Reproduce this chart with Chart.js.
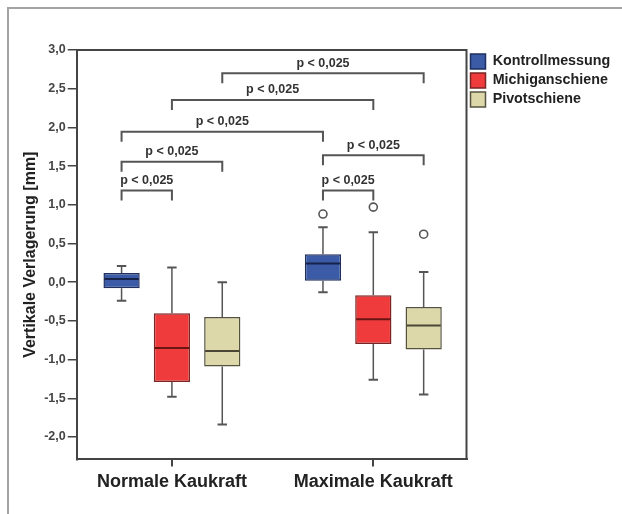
<!DOCTYPE html>
<html>
<head>
<meta charset="utf-8">
<script src="https://cdn.jsdelivr.net/npm/chart.js@4/dist/chart.umd.min.js"></script>
<style>
  html, body { margin: 0; padding: 0; background: #fff; }
  #wrap { position: relative; width: 622px; height: 514px; }
  #page { position: absolute; left: 7px; top: 7px; right: 0; bottom: 0;
          border-left: 2px solid #a3a3a3; border-top: 2px solid #a3a3a3; }
  canvas { position: absolute; left: 0; top: 0; }
</style>
</head>
<body>
<div id="wrap">
  <div id="page"></div>
  <canvas id="c" width="622" height="514"></canvas>
</div>
<script>
// Groups on the x axis
const groups = ['Normale Kaukraft', 'Maximale Kaukraft'];

// Box statistics per group: [min whisker, Q1, median, Q3, max whisker] in mm
const kontrollmessung = [[-0.24, -0.08, 0.04, 0.12, 0.21], [-0.13, 0.02, 0.24, 0.36, 0.71]];
const michiganschiene = [[-1.48, -1.29, -0.85, -0.40, 0.19], [-1.26, -0.80, -0.48, -0.17, 0.645]];
const pivotschiene    = [[-1.84, -1.09, -0.89, -0.45, 0.00], [-1.45, -0.87, -0.56, -0.32, 0.13]];

// Outliers per group
const kontrollOutliers = [[], [0.88]];
const michiganOutliers = [[], [0.97]];
const pivotOutliers    = [[], [0.62]];

// Y axis tick values
const yTicks = [-2.0, -1.5, -1.0, -0.5, 0.0, 0.5, 1.0, 1.5, 2.0, 2.5, 3.0];

// Significance brackets: [series, group] to [series, group], at height level (mm)
const brackets = [
  { from: [2, 0], to: [2, 1], level: 2.70, text: 'p < 0,025' },
  { from: [1, 0], to: [1, 1], level: 2.355, text: 'p < 0,025' },
  { from: [0, 0], to: [0, 1], level: 1.945, text: 'p < 0,025' },
  { from: [0, 0], to: [2, 0], level: 1.555, text: 'p < 0,025' },
  { from: [0, 0], to: [1, 0], level: 1.185, text: 'p < 0,025' },
  { from: [0, 1], to: [2, 1], level: 1.64,  text: 'p < 0,025' },
  { from: [0, 1], to: [1, 1], level: 1.185, text: 'p < 0,025' }
];

const FONT = "'Liberation Sans', Arial, sans-serif";

const series = [
  { label: 'Kontrollmessung', stats: kontrollmessung, outliers: kontrollOutliers,
    fill: '#3b5ba6', edge: '#1f2f5e', median: '#16224a' },
  { label: 'Michiganschiene', stats: michiganschiene, outliers: michiganOutliers,
    fill: '#ef3b3c', edge: '#7a2424', median: '#6a1414' },
  { label: 'Pivotschiene', stats: pivotschiene, outliers: pivotOutliers,
    fill: '#dcd8aa', edge: '#55533e', median: '#4a4834' }
];

const datasets = series.map(s => ({
  label: s.label,
  data: s.stats.map((st, g) => ({ x: g, y: [st[1], st[3]] })),
  backgroundColor: s.fill,
  borderColor: s.edge,
  borderWidth: 1.5,
  borderSkipped: false,
  categoryPercentage: 0.75,
  barPercentage: 0.72
}));

// Whiskers, medians and outliers for each box
const boxPlugin = {
  id: 'boxParts',
  beforeDatasetsDraw(chart) {
    const ctx = chart.ctx, y = chart.scales.y;
    ctx.save();
    series.forEach((s, di) => {
      const meta = chart.getDatasetMeta(di);
      meta.data.forEach((bar, g) => {
        const st = s.stats[g];
        const x = bar.x, cap = bar.width * 0.13;
        ctx.strokeStyle = '#555';
        ctx.lineWidth = 1.5;
        ctx.beginPath();
        ctx.moveTo(x, y.getPixelForValue(st[4]));
        ctx.lineTo(x, y.getPixelForValue(st[3]));
        ctx.moveTo(x, y.getPixelForValue(st[1]));
        ctx.lineTo(x, y.getPixelForValue(st[0]));
        ctx.stroke();
        ctx.lineWidth = 2;
        ctx.beginPath();
        ctx.moveTo(x - cap, y.getPixelForValue(st[4]));
        ctx.lineTo(x + cap, y.getPixelForValue(st[4]));
        ctx.moveTo(x - cap, y.getPixelForValue(st[0]));
        ctx.lineTo(x + cap, y.getPixelForValue(st[0]));
        ctx.stroke();
      });
    });
    ctx.restore();
  },
  afterDatasetsDraw(chart) {
    const ctx = chart.ctx, y = chart.scales.y;
    ctx.save();
    series.forEach((s, di) => {
      const meta = chart.getDatasetMeta(di);
      meta.data.forEach((bar, g) => {
        const st = s.stats[g];
        const half = bar.width / 2;
        ctx.strokeStyle = s.median;
        ctx.lineWidth = 2;
        ctx.beginPath();
        const ym = y.getPixelForValue(st[2]);
        ctx.moveTo(bar.x - half + 1, ym);
        ctx.lineTo(bar.x + half - 1, ym);
        ctx.stroke();
        s.outliers[g].forEach(v => {
          ctx.beginPath();
          ctx.arc(bar.x, y.getPixelForValue(v), 4, 0, Math.PI * 2);
          ctx.fillStyle = '#fff';
          ctx.fill();
          ctx.strokeStyle = '#555';
          ctx.lineWidth = 1.6;
          ctx.stroke();
        });
      });
    });

    // Significance brackets
    ctx.font = 'bold 12.5px ' + FONT;
    ctx.textAlign = 'center';
    ctx.textBaseline = 'middle';
    brackets.forEach(b => {
      const x1 = chart.getDatasetMeta(b.from[0]).data[b.from[1]].x;
      const x2 = chart.getDatasetMeta(b.to[0]).data[b.to[1]].x;
      const yl = y.getPixelForValue(b.level);
      ctx.strokeStyle = '#555';
      ctx.lineWidth = 2;
      ctx.beginPath();
      ctx.moveTo(x1, yl + 10);
      ctx.lineTo(x1, yl);
      ctx.lineTo(x2, yl);
      ctx.lineTo(x2, yl + 10);
      ctx.stroke();
      ctx.fillStyle = '#333';
      ctx.fillText(b.text, (x1 + x2) / 2, yl - 10);
    });

    // Plot frame: top and right edges
    const a = chart.chartArea;
    ctx.strokeStyle = '#444';
    ctx.lineWidth = 2;
    ctx.beginPath();
    ctx.moveTo(a.left, a.top);
    ctx.lineTo(a.right, a.top);
    ctx.lineTo(a.right, a.bottom);
    ctx.stroke();
    ctx.restore();
  }
};

new Chart(document.getElementById('c'), {
  type: 'bar',
  data: { datasets },
  options: {
    responsive: false,
    animation: false,
    layout: { padding: { left: 15, top: 50, right: 5, bottom: 16 } },
    plugins: {
      tooltip: { enabled: false },
      legend: {
        position: 'right',
        align: 'start',
        labels: {
          boxWidth: 15,
          boxHeight: 15,
          padding: 4,
          color: '#222',
          font: { family: FONT, size: 14.3, weight: 'bold', lineHeight: 1.12 }
        }
      }
    },
    scales: {
      x: {
        type: 'linear',
        min: -0.4726,
        max: 1.4627,
        offset: false,
        afterBuildTicks(scale) { scale.ticks = groups.map((_, i) => ({ value: i })); },
        ticks: {
          callback: v => groups[v],
          color: '#222',
          padding: 5,
          maxRotation: 0,
          font: { family: FONT, size: 18, weight: 'bold' }
        },
        grid: { offset: false, drawOnChartArea: false, drawTicks: true, tickLength: 7, color: '#444', lineWidth: 2 },
        border: { display: true, color: '#444', width: 2 }
      },
      y: {
        min: -2.29,
        max: 3.0,
        afterBuildTicks(scale) { scale.ticks = yTicks.map(v => ({ value: v })); },
        ticks: {
          callback: v => v.toFixed(1).replace('.', ','),
          color: '#444',
          padding: 2,
          font: { family: FONT, size: 12.5, weight: 'bold' }
        },
        grid: { drawOnChartArea: false, drawTicks: true, tickLength: 9, color: '#444', lineWidth: 1.5 },
        border: { display: true, color: '#444', width: 2 },
        title: {
          display: true,
          text: 'Vertikale Verlagerung [mm]',
          color: '#222',
          padding: { top: 6, bottom: 2 },
          font: { family: FONT, size: 16, weight: 'bold' }
        }
      }
    }
  },
  plugins: [boxPlugin]
});
</script>
</body>
</html>
